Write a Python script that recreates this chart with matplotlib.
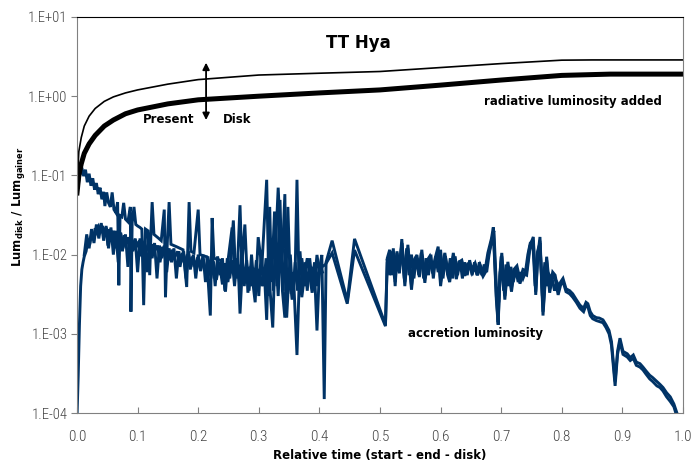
import numpy as np
import matplotlib
matplotlib.use("Agg")
import matplotlib.pyplot as plt
from matplotlib import font_manager


# Black curves: luminosity with the disk, with and without radiative part
t_total = [0.0, 0.003, 0.007, 0.012, 0.02, 0.03, 0.045, 0.06, 0.08, 0.1, 0.15,
           0.2, 0.3, 0.4, 0.5, 0.6, 0.7, 0.8, 0.85, 0.9, 1.0]
lum_total = [0.07, 0.2, 0.3, 0.42, 0.56, 0.7, 0.86, 0.98, 1.1, 1.2, 1.42,
             1.62, 1.85, 1.95, 2.05, 2.3, 2.58, 2.85, 2.87, 2.87, 2.87]

t_disk = [0.0, 0.003, 0.007, 0.012, 0.02, 0.03, 0.045, 0.06, 0.08, 0.1, 0.15,
          0.2, 0.3, 0.4, 0.5, 0.6, 0.7, 0.8, 0.88, 0.9, 1.0]
lum_disk = [0.06, 0.1, 0.14, 0.19, 0.25, 0.32, 0.42, 0.5, 0.6, 0.67, 0.8,
            0.9, 1.0, 1.1, 1.2, 1.38, 1.6, 1.83, 1.9, 1.9, 1.9]

# Accretion luminosity, run 1 (upper branch at start)
t_acc1 = [0.000, 0.004, 0.008, 0.011, 0.014, 0.017, 0.020, 0.023, 0.026, 0.029,
          0.032, 0.035, 0.038, 0.041, 0.044, 0.046, 0.049, 0.052, 0.055, 0.058,
          0.061, 0.064, 0.067, 0.069, 0.071, 0.074, 0.077, 0.080, 0.084, 0.088,
          0.089, 0.091, 0.094, 0.097, 0.100, 0.104, 0.107, 0.110, 0.113, 0.117,
          0.120, 0.122, 0.124, 0.127, 0.131, 0.135, 0.139, 0.144, 0.146, 0.149,
          0.152, 0.155, 0.160, 0.165, 0.170, 0.175, 0.181, 0.185, 0.188, 0.193,
          0.200, 0.203, 0.208, 0.214, 0.220, 0.223, 0.226, 0.232, 0.238, 0.245,
          0.249, 0.256, 0.259, 0.265, 0.269, 0.272, 0.277, 0.282, 0.287, 0.294,
          0.299, 0.305, 0.313, 0.316, 0.323, 0.326, 0.332, 0.338, 0.343, 0.346,
          0.350, 0.355, 0.360, 0.363, 0.366, 0.371, 0.376, 0.380, 0.388, 0.392,
          0.396, 0.400, 0.404, 0.408, 0.411,
          0.421, 0.446, 0.458, 0.509, 0.512, 0.516, 0.519, 0.522, 0.525, 0.528,
          0.532, 0.536, 0.541, 0.546, 0.552, 0.556, 0.561, 0.565, 0.569, 0.574,
          0.578, 0.582, 0.587, 0.591, 0.596, 0.600, 0.604, 0.607, 0.612, 0.615,
          0.621, 0.626, 0.630, 0.635, 0.640, 0.644, 0.648, 0.652, 0.657, 0.661,
          0.665, 0.670, 0.674, 0.678, 0.684, 0.687, 0.692, 0.695, 0.698, 0.701,
          0.706, 0.711, 0.717, 0.721, 0.726, 0.731, 0.736, 0.742, 0.747, 0.753,
          0.757, 0.760, 0.764, 0.769, 0.775, 0.780, 0.785, 0.789, 0.794, 0.798,
          0.802, 0.807, 0.813, 0.818, 0.824, 0.830, 0.836, 0.840, 0.843, 0.847,
          0.851, 0.857, 0.862, 0.868, 0.873, 0.878, 0.882, 0.888, 0.892, 0.896,
          0.901, 0.908, 0.913, 0.918, 0.923, 0.929, 0.934, 0.939, 0.945, 0.950,
          0.957, 0.962, 0.967, 0.973, 0.979, 0.985, 0.990, 0.995]
lum_acc1 = [0.060, 0.095, 0.125, 0.098, 0.118, 0.082, 0.105, 0.074, 0.092, 0.066,
            0.080, 0.058, 0.070, 0.050, 0.062, 0.041, 0.061, 0.045, 0.040, 0.061,
            0.037, 0.034, 0.046, 0.0041, 0.031, 0.030, 0.045, 0.028, 0.026, 0.040,
            0.0019, 0.025, 0.040, 0.024, 0.023, 0.022, 0.021, 0.0023, 0.021, 0.020,
            0.0055, 0.019, 0.046, 0.018, 0.017, 0.016, 0.015, 0.037, 0.0029, 0.014,
            0.046, 0.0135, 0.013, 0.0125, 0.012, 0.0115, 0.0039, 0.046, 0.011, 0.0105,
            0.037, 0.010, 0.0097, 0.0094, 0.0017, 0.029, 0.0090, 0.0087, 0.0084, 0.0034,
            0.0082, 0.022, 0.0079, 0.0077, 0.042, 0.0075, 0.024, 0.0033, 0.0072, 0.0025,
            0.0166, 0.0070, 0.088, 0.0068, 0.0012, 0.0066, 0.070, 0.0064, 0.058, 0.0016,
            0.0062, 0.0027, 0.0061, 0.088, 0.0060, 0.0029, 0.0060, 0.0090, 0.0033, 0.0060,
            0.0011, 0.0065, 0.0099, 0.00015, 0.0080,
            0.0150, 0.0026, 0.0158, 0.0013, 0.0090, 0.0115, 0.0060, 0.0120, 0.0045, 0.0110,
            0.0065, 0.0157, 0.0045, 0.0133, 0.0040, 0.0085, 0.0099, 0.0060, 0.0115, 0.0050,
            0.0085, 0.0095, 0.0065, 0.0090, 0.0126, 0.0045, 0.0080, 0.0105, 0.0060, 0.0050,
            0.0105, 0.0055, 0.0080, 0.0085, 0.0060, 0.0075, 0.0080, 0.0065, 0.0078, 0.0062,
            0.0075, 0.0060, 0.0068, 0.0105, 0.0160, 0.0221, 0.0030, 0.0014, 0.0060, 0.0105,
            0.0030, 0.0081, 0.0038, 0.0065, 0.0072, 0.0048, 0.0065, 0.0062, 0.0126, 0.0167,
            0.0034, 0.0090, 0.0167, 0.0019, 0.0094, 0.0037, 0.0060, 0.0055, 0.0034, 0.0045,
            0.0050, 0.0037, 0.0035, 0.0032, 0.0027, 0.0023, 0.0021, 0.0025, 0.0024, 0.0019,
            0.0017, 0.0016, 0.00158, 0.0015, 0.0013, 0.0011, 0.0008, 0.00025, 0.0006, 0.00088,
            0.0006, 0.00056, 0.00050, 0.00054, 0.00044, 0.00042, 0.00038, 0.00034, 0.00030, 0.00028,
            0.00025, 0.00023, 0.00021, 0.00018, 0.00016, 0.00013, 0.000100, 0.000080]

# Accretion luminosity, run 2 (lower branch at start)
t_acc2 = [0.000, 0.002, 0.004, 0.006, 0.008, 0.010, 0.012, 0.015, 0.018, 0.021,
          0.024, 0.027, 0.030, 0.033, 0.036, 0.039, 0.042, 0.045, 0.048, 0.051,
          0.054, 0.057, 0.060, 0.063, 0.066, 0.069, 0.072, 0.075, 0.078, 0.081,
          0.084, 0.087, 0.090, 0.093, 0.096, 0.099, 0.103, 0.106, 0.110, 0.114,
          0.118, 0.121, 0.125, 0.129, 0.133, 0.137, 0.141, 0.145, 0.149, 0.153,
          0.157, 0.162, 0.166, 0.170, 0.174, 0.178, 0.182, 0.187, 0.191, 0.195,
          0.199, 0.204, 0.208, 0.213, 0.217, 0.221, 0.225, 0.230, 0.235, 0.240,
          0.244, 0.249, 0.253, 0.258, 0.262, 0.266, 0.269, 0.273, 0.278, 0.282,
          0.287, 0.291, 0.296, 0.300, 0.305, 0.309, 0.313, 0.318, 0.321, 0.326,
          0.330, 0.335, 0.339, 0.343, 0.348, 0.352, 0.357, 0.363, 0.367, 0.371,
          0.376, 0.380, 0.384, 0.388, 0.392, 0.396, 0.400, 0.404, 0.410,
          0.421, 0.446, 0.458, 0.509, 0.512, 0.516, 0.519, 0.522, 0.525, 0.528,
          0.532, 0.536, 0.541, 0.546, 0.552, 0.556, 0.561, 0.565, 0.569, 0.574,
          0.578, 0.582, 0.587, 0.591, 0.596, 0.600, 0.604, 0.607, 0.612, 0.615,
          0.621, 0.626, 0.630, 0.635, 0.640, 0.644, 0.648, 0.652, 0.657, 0.661,
          0.665, 0.670, 0.674, 0.678, 0.684, 0.687, 0.692, 0.695, 0.698, 0.701,
          0.706, 0.711, 0.717, 0.721, 0.726, 0.731, 0.736, 0.742, 0.747, 0.753,
          0.757, 0.760, 0.764, 0.769, 0.775, 0.780, 0.785, 0.789, 0.794, 0.798,
          0.802, 0.807, 0.813, 0.818, 0.824, 0.830, 0.836, 0.840, 0.843, 0.847,
          0.851, 0.857, 0.862, 0.868, 0.873, 0.878, 0.882, 0.888, 0.892, 0.896,
          0.901, 0.908, 0.913, 0.918, 0.923, 0.929, 0.934, 0.939, 0.945, 0.950,
          0.957, 0.962, 0.967, 0.973, 0.979, 0.985, 0.990, 0.995]
lum_acc2 = [0.00009, 0.00030, 0.0013, 0.0040, 0.0065, 0.0080, 0.0095, 0.0110, 0.0150, 0.0135,
            0.0180, 0.0160, 0.0215, 0.0190, 0.0225, 0.0200, 0.0230, 0.0175, 0.0220, 0.0130,
            0.0210, 0.0170, 0.0200, 0.0120, 0.0190, 0.0150, 0.0185, 0.0110, 0.0175, 0.0140,
            0.0165, 0.0100, 0.0160, 0.0120, 0.0155, 0.0130, 0.0150, 0.0095, 0.0145, 0.0110,
            0.0140, 0.0090, 0.0135, 0.0115, 0.0130, 0.0080, 0.0125, 0.0100, 0.0120, 0.0085,
            0.0115, 0.0095, 0.0110, 0.0070, 0.0105, 0.0080, 0.0100, 0.0065, 0.0095, 0.0070,
            0.0092, 0.0062, 0.0088, 0.0060, 0.0085, 0.0050, 0.0082, 0.0048, 0.0080, 0.0042,
            0.0078, 0.0045, 0.0076, 0.027, 0.0050, 0.0074, 0.0018, 0.0072, 0.0045, 0.0070,
            0.0040, 0.0068, 0.0042, 0.0066, 0.0040, 0.0065, 0.0015, 0.040, 0.0045, 0.035,
            0.0040, 0.049, 0.0035, 0.0016, 0.040, 0.0040, 0.0060, 0.00054, 0.0055, 0.0090,
            0.0040, 0.0060, 0.0050, 0.0070, 0.0045, 0.0099, 0.0060, 0.0070, 0.0075,
            0.0105, 0.0024, 0.0114, 0.00125, 0.0080, 0.0100, 0.0055, 0.0105, 0.0040, 0.0095,
            0.0058, 0.0140, 0.0040, 0.0120, 0.0036, 0.0078, 0.0090, 0.0052, 0.0100, 0.0044,
            0.0078, 0.0085, 0.0058, 0.0080, 0.0110, 0.0040, 0.0072, 0.0095, 0.0054, 0.0045,
            0.0095, 0.0049, 0.0072, 0.0076, 0.0054, 0.0066, 0.0072, 0.0058, 0.0068, 0.0055,
            0.0066, 0.0053, 0.0060, 0.0095, 0.0140, 0.0195, 0.0027, 0.0013, 0.0054, 0.0095,
            0.0027, 0.0072, 0.0034, 0.0058, 0.0064, 0.0043, 0.0058, 0.0055, 0.0112, 0.0150,
            0.0031, 0.0080, 0.0150, 0.0017, 0.0085, 0.0033, 0.0054, 0.0050, 0.0031, 0.0041,
            0.0046, 0.0034, 0.0032, 0.0029, 0.0025, 0.0021, 0.0019, 0.0023, 0.0022, 0.0017,
            0.00155, 0.00147, 0.00143, 0.00138, 0.0012, 0.0010, 0.00072, 0.00022, 0.00055, 0.00080,
            0.00055, 0.00051, 0.00046, 0.00049, 0.00040, 0.00038, 0.00035, 0.00031, 0.00027, 0.00025,
            0.00022, 0.00021, 0.00019, 0.00016, 0.00014, 0.00012, 0.000090, 0.000075]

# Accretion luminosity, run 3 (only the noisy stretches)
t_acc3a = [0.012, 0.016, 0.020, 0.024, 0.028, 0.032, 0.036, 0.040, 0.044, 0.048,
           0.052, 0.056, 0.060, 0.064, 0.068, 0.072, 0.076, 0.080, 0.084, 0.088,
           0.092, 0.096, 0.100, 0.104, 0.108, 0.112, 0.116, 0.120, 0.124, 0.128,
           0.132, 0.136, 0.140, 0.144, 0.148, 0.152, 0.156, 0.160, 0.164, 0.168,
           0.172, 0.176, 0.180, 0.184, 0.188, 0.192, 0.196, 0.200, 0.204, 0.208,
           0.212, 0.216, 0.220, 0.224, 0.228, 0.232, 0.236, 0.240, 0.244, 0.248,
           0.252, 0.256, 0.260, 0.264, 0.268, 0.272, 0.276, 0.280, 0.284, 0.288,
           0.292, 0.296, 0.300, 0.304, 0.308, 0.312, 0.316, 0.320, 0.324, 0.328,
           0.332, 0.336, 0.340, 0.344, 0.348, 0.352, 0.356, 0.360, 0.364, 0.368,
           0.372, 0.376, 0.380, 0.384, 0.388, 0.392, 0.396, 0.400, 0.405]
lum_acc3a = [0.010, 0.018, 0.012, 0.021, 0.014, 0.024, 0.016, 0.025, 0.015, 0.023,
             0.012, 0.022, 0.010, 0.020, 0.008, 0.019, 0.012, 0.018, 0.007, 0.017,
             0.011, 0.016, 0.006, 0.016, 0.010, 0.015, 0.006, 0.015, 0.009, 0.014,
             0.005, 0.013, 0.009, 0.013, 0.006, 0.012, 0.008, 0.012, 0.005, 0.011,
             0.008, 0.011, 0.005, 0.011, 0.007, 0.010, 0.005, 0.010, 0.0065, 0.010,
             0.0045, 0.0095, 0.006, 0.009, 0.004, 0.0095, 0.0055, 0.009, 0.0035, 0.009,
             0.005, 0.0085, 0.004, 0.009, 0.0045, 0.012, 0.004, 0.0085, 0.0035, 0.010,
             0.004, 0.0085, 0.003, 0.011, 0.004, 0.009, 0.003, 0.013, 0.0035, 0.010,
             0.003, 0.015, 0.0035, 0.012, 0.0032, 0.010, 0.003, 0.008, 0.0035, 0.011,
             0.004, 0.008, 0.0035, 0.009, 0.0045, 0.008, 0.004, 0.0075, 0.006]

t_acc3b = [0.512, 0.516, 0.520, 0.524, 0.528, 0.532, 0.536, 0.540, 0.544, 0.548,
           0.552, 0.556, 0.560, 0.564, 0.568, 0.572, 0.576, 0.580, 0.584, 0.588,
           0.592, 0.596, 0.600, 0.604, 0.608, 0.612, 0.616, 0.620, 0.624, 0.628,
           0.632, 0.636, 0.640, 0.644, 0.648, 0.652, 0.656, 0.660, 0.664, 0.668,
           0.672, 0.676, 0.680, 0.684, 0.688, 0.692, 0.696, 0.700, 0.704, 0.708,
           0.712, 0.716, 0.720, 0.724, 0.728, 0.732, 0.736, 0.740, 0.744, 0.748,
           0.752, 0.756, 0.760, 0.764, 0.768, 0.772, 0.776, 0.780, 0.784, 0.788,
           0.792, 0.796, 0.800]
lum_acc3b = [0.0085, 0.0055, 0.0110, 0.0050, 0.0105, 0.0060, 0.0140, 0.0050, 0.0120, 0.0055,
             0.0100, 0.0050, 0.0095, 0.0055, 0.0105, 0.0050, 0.0090, 0.0055, 0.0100, 0.0050,
             0.0095, 0.0060, 0.0115, 0.0050, 0.0095, 0.0055, 0.0090, 0.0050, 0.0095, 0.0055,
             0.0085, 0.0050, 0.0080, 0.0055, 0.0085, 0.0055, 0.0080, 0.0055, 0.0080, 0.0055,
             0.0075, 0.0060, 0.0100, 0.0150, 0.0200, 0.0040, 0.0025, 0.0095, 0.0035, 0.0075,
             0.0040, 0.0070, 0.0045, 0.0065, 0.0045, 0.0060, 0.0050, 0.0060, 0.0100, 0.0140,
             0.0150, 0.0040, 0.0110, 0.0140, 0.0030, 0.0080, 0.0040, 0.0055, 0.0050, 0.0035,
             0.0045, 0.0040, 0.0045]

x_ticks = [0.0, 0.1, 0.2, 0.3, 0.4, 0.5, 0.6, 0.7, 0.8, 0.9, 1.0]
x_ticklabels = ["0.0", "0.1", "0.2", "0.3", "0.4", "0.5", "0.6", "0.7", "0.8", "0.9", "1.0"]
y_ticks = [1e-4, 1e-3, 1e-2, 1e-1, 1e0, 1e1]
y_ticklabels = ["1.E-04", "1.E-03", "1.E-02", "1.E-01", "1.E+00", "1.E+01"]

navy = "#003366"

# narrow font for the tick labels if one is installed
names = {f.name for f in font_manager.fontManager.ttflist}
tick_font = "DejaVu Sans"
for cand in ["Liberation Sans Narrow", "Roboto Condensed", "DejaVu Sans Condensed",
             "Open Sans Condensed"]:
    if cand in names:
        tick_font = cand
        break

fig = plt.figure(figsize=(6.95, 4.68), dpi=100)
ax = fig.add_axes([0.1108, 0.1175, 0.8719, 0.8462])

for t, lum in [(t_acc1, lum_acc1), (t_acc2, lum_acc2),
               (t_acc3a, lum_acc3a), (t_acc3b, lum_acc3b)]:
    ax.plot(t, lum, color=navy, lw=2.1, solid_joinstyle="miter")
ax.plot(t_total, lum_total, color="black", lw=1.2)
ax.plot(t_disk, lum_disk, color="black", lw=3.6)

ax.set_yscale("log")
ax.set_xlim(0, 1)
ax.set_ylim(1e-4, 1e1)
ax.minorticks_off()
ax.set_xticks(x_ticks)
ax.set_xticklabels(x_ticklabels, family=tick_font, fontsize=11, color="#444444",
                   fontweight="light")
ax.set_yticks(y_ticks)
ax.set_yticklabels(y_ticklabels, family=tick_font, fontsize=10.5, color="#444444",
                   fontweight="light")
ax.tick_params(axis="x", direction="in", length=4, color="#808080", pad=12)
ax.tick_params(axis="y", direction="out", length=4, color="#808080", pad=3)

for side in ["left", "right", "bottom"]:
    ax.spines[side].set_color("#808080")
ax.spines["top"].set_color("black")

# double arrow between the two black curves
ax.annotate("", xy=(0.213, 2.65), xytext=(0.213, 0.5),
            arrowprops=dict(arrowstyle="<|-|>", color="black", lw=1.3,
                            mutation_scale=10, shrinkA=0, shrinkB=0))

ax.text(0.465, 4.7, "TT Hya", fontsize=12, fontweight="bold", ha="center", va="center")
ax.text(0.152, 0.515, "Present", fontsize=8.5, fontweight="bold", ha="center", va="center")
ax.text(0.264, 0.515, "Disk", fontsize=8.5, fontweight="bold", ha="center", va="center")
ax.text(0.818, 0.845, "radiative luminosity added", fontsize=8.5, fontweight="bold",
        ha="center", va="center")
ax.text(0.658, 1.02e-3, "accretion luminosity", fontsize=8.5, fontweight="bold",
        ha="center", va="center")

ax.set_xlabel("Relative time (start - end - disk)", fontsize=8.5, fontweight="bold", labelpad=4)
ax.set_ylabel(r"Lum$_{\mathbf{disk}}$ / Lum$_{\mathbf{gainer}}$", fontsize=8.5,
              fontweight="bold")
ax.yaxis.set_label_coords(-0.082, 0.52)

fig.savefig("out.png", dpi=100)
